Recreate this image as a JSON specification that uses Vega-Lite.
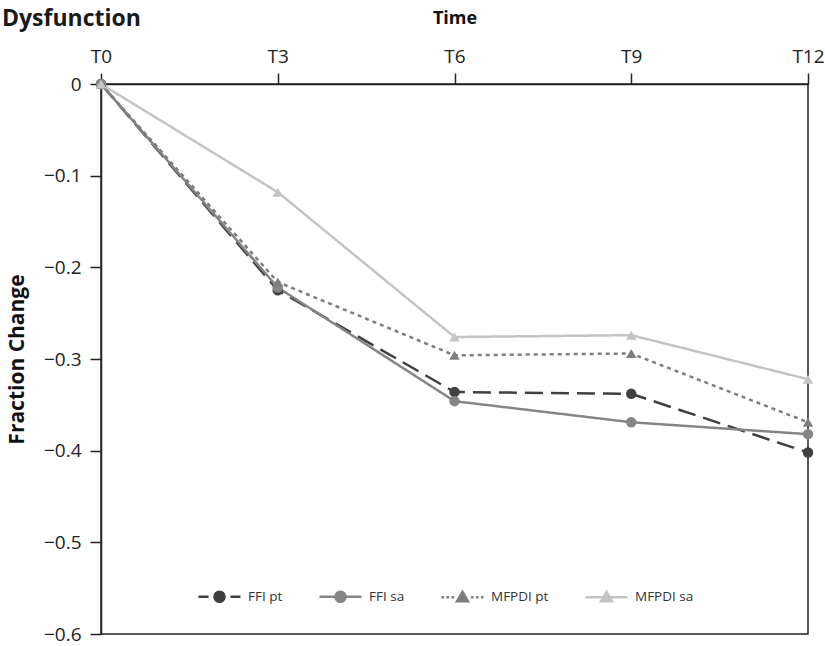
{
  "$schema": "https://vega.github.io/schema/vega-lite/v6.json",
  "autosize": "none",
  "padding": {"left": 101, "top": 84, "right": 17, "bottom": 12},
  "width": 707,
  "height": 550,
  "background": "white",
  "title": {"text": "Dysfunction", "anchor": "start", "frame": "group", "fontSize": 23, "fontWeight": "bold", "font": "Open Sans", "color": "#1a1a1a", "offset": 0, "dy": 22, "dx": -99},
  "data": {"values": [
    {"time": "T0", "series": "FFI pt", "value": 0},
    {"time": "T3", "series": "FFI pt", "value": -0.225},
    {"time": "T6", "series": "FFI pt", "value": -0.336},
    {"time": "T9", "series": "FFI pt", "value": -0.338},
    {"time": "T12", "series": "FFI pt", "value": -0.402},
    {"time": "T0", "series": "FFI sa", "value": 0},
    {"time": "T3", "series": "FFI sa", "value": -0.222},
    {"time": "T6", "series": "FFI sa", "value": -0.346},
    {"time": "T9", "series": "FFI sa", "value": -0.369},
    {"time": "T12", "series": "FFI sa", "value": -0.382},
    {"time": "T0", "series": "MFPDI pt", "value": 0},
    {"time": "T3", "series": "MFPDI pt", "value": -0.216},
    {"time": "T6", "series": "MFPDI pt", "value": -0.296},
    {"time": "T9", "series": "MFPDI pt", "value": -0.294},
    {"time": "T12", "series": "MFPDI pt", "value": -0.369},
    {"time": "T0", "series": "MFPDI sa", "value": 0},
    {"time": "T3", "series": "MFPDI sa", "value": -0.118},
    {"time": "T6", "series": "MFPDI sa", "value": -0.276},
    {"time": "T9", "series": "MFPDI sa", "value": -0.274},
    {"time": "T12", "series": "MFPDI sa", "value": -0.322}
  ]},
  "encoding": {
    "x": {"field": "time", "type": "ordinal", "sort": ["T0", "T3", "T6", "T9", "T12"],
      "scale": {"type": "point", "padding": 0},
      "axis": {"orient": "top", "title": "Time", "labelAngle": 0, "labelPadding": 7, "titlePadding": 20, "labelFlush": false}},
    "y": {"field": "value", "type": "quantitative",
      "scale": {"domain": [-0.6, 0], "nice": false, "zero": false},
      "axis": {"title": "Fraction Change", "titleFontSize": 21, "values": [0, -0.1, -0.2, -0.3, -0.4, -0.5, -0.6], "labelExpr": "replace(format(datum.value, '.1~f'), '-', '\u2212')", "labelPadding": 9, "titlePadding": 16}}
  },
  "layer": [
    {
      "mark": {"type": "line", "strokeWidth": 2.5},
      "encoding": {
        "color": {"field": "series", "type": "nominal", "scale": {"range": ["#404040", "#858585", "#7d7d7d", "#c4c4c4"]}, "legend": null},
        "strokeDash": {"field": "series", "type": "nominal", "scale": {"range": [[18, 8], [1, 0], [4, 4], [1, 0]]}, "legend": null}
      }
    },
    {
      "transform": [{"filter": "indexof(datum.series, 'FFI') == 0"}],
      "mark": {"type": "point", "filled": true, "size": 110, "opacity": 1, "shape": "circle"},
      "encoding": {"color": {"field": "series", "type": "nominal", "legend": null}}
    },
    {
      "transform": [{"filter": "indexof(datum.series, 'MFPDI') == 0"}],
      "mark": {"type": "point", "filled": true, "size": 110, "opacity": 1, "shape": "triangle-up"},
      "encoding": {"color": {"field": "series", "type": "nominal", "legend": null}}
    },
    {
      "transform": [{"filter": "datum.value > 1"}],
      "mark": {"type": "point", "strokeWidth": 2.5, "opacity": 1},
      "encoding": {
        "fill": {"field": "series", "type": "nominal", "title": null, "legend": {"title": null}, "scale": {"domain": ["FFI pt", "FFI sa", "MFPDI pt", "MFPDI sa"], "range": ["#404040", "#858585", "#7d7d7d", "#c4c4c4"]}},
        "stroke": {"field": "series", "type": "nominal", "title": null, "legend": {"title": null}, "scale": {"domain": ["FFI pt", "FFI sa", "MFPDI pt", "MFPDI sa"], "range": ["#404040", "#858585", "#7d7d7d", "#c4c4c4"]}},
        "shape": {"field": "series", "type": "nominal", "title": null, "legend": {"title": null},
          "scale": {"domain": ["FFI pt", "FFI sa", "MFPDI pt", "MFPDI sa"],
            "range": [
              "M-1,0L-0.52,0M0.52,0L1,0M-0.24,0A0.24,0.24,0,1,0,0.24,0A0.24,0.24,0,1,0,-0.24,0Z",
              "M-1,0L1,0M-0.24,0A0.24,0.24,0,1,0,0.24,0A0.24,0.24,0,1,0,-0.24,0Z",
              "M-1,0L-0.88,0M-0.76,0L-0.64,0M-0.52,0L-0.4,0M0.4,0L0.52,0M0.64,0L0.76,0M0.88,0L1,0M0,-0.26L0.26,0.18L-0.26,0.18Z",
              "M-1,0L1,0M0,-0.26L0.26,0.18L-0.26,0.18Z"
            ]}}
      }
    }
  ],
  "config": {
    "font": "Open Sans",
    "view": {"stroke": "#222", "strokeWidth": 1.5},
    "axis": {"grid": false, "domainColor": "#222", "domainWidth": 1.5, "tickColor": "#222", "tickWidth": 1.5, "tickSize": 11, "labelFontSize": 19, "labelColor": "#222", "titleFontSize": 18, "titleFontWeight": "bold", "titleColor": "#111", "labelFont": "Open Sans", "titleFont": "Open Sans"},
    "legend": {
      "orient": "none", "legendX": 96, "legendY": 490, "direction": "horizontal", "columns": 4,
      "symbolSize": 1764, "symbolStrokeWidth": 2.5, "symbolOpacity": 1,
      "labelFontSize": 13.5, "labelColor": "#333", "labelOffset": 6, "columnPadding": 31, "labelFont": "Open Sans"
    }
  }
}
